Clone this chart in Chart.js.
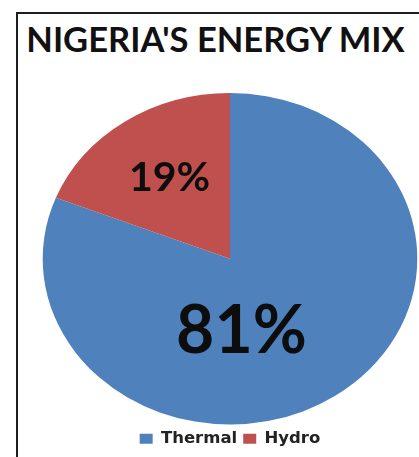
<!DOCTYPE html>
<html>
<head>
<meta charset="utf-8">
<script src="https://cdn.jsdelivr.net/npm/chart.js@4/dist/chart.umd.min.js"></script>
<style>
  html, body { margin: 0; padding: 0; background: #fff; overflow: hidden; }
  body { width: 419px; height: 457px; position: relative; }
  #frame {
    position: absolute; left: 16px; top: 12px; width: 430px; height: 460px;
    border-left: 2px solid #1e1e1e; border-top: 2px solid #1e1e1e;
  }
  #title {
    position: absolute; left: 0; top: 22px; width: 431px; margin: 0;
    text-align: center; font: 700 34.5px/1 Lato, sans-serif; color: #111;
    white-space: nowrap;
  }
  #wrap { position: absolute; left: 0; top: 0; width: 419px; height: 457px; }
</style>
</head>
<body>
<div id="frame"></div>
<h1 id="title">NIGERIA'S ENERGY MIX</h1>
<div id="wrap"><canvas id="piechart"></canvas></div>
<script>
// energy mix, percent
const categories = ["Thermal", "Hydro"];
const shares = [81, 19];
const colors = ["#4f81bd", "#c0504d"];

// the original pie is an ellipse, a bit wider than tall
const stretchX = 1.13;
// where each percentage sits, as a fraction of the radius from the centre
const labelSpots = [[0.061, 0.425], [-0.323, -0.5]];
const labelSizes = [66, 41];

const ellipsePie = {
    id: "ellipsePie",
    beforeDatasetsDraw(chart) {
        const arc = chart.getDatasetMeta(0).data[0];
        const ctx = chart.ctx;
        ctx.save();
        ctx.translate(arc.x, arc.y);
        ctx.scale(stretchX, 1);
        ctx.translate(-arc.x, -arc.y);
    },
    afterDatasetsDraw(chart) {
        const ctx = chart.ctx;
        ctx.restore();
        const meta = chart.getDatasetMeta(0);
        meta.data.forEach((arc, i) => {
            const r = arc.outerRadius;
            const x = arc.x + labelSpots[i][0] * r * stretchX;
            const y = arc.y + labelSpots[i][1] * r;
            const size = labelSizes[i];
            ctx.save();
            ctx.font = "700 " + size + "px Lato, sans-serif";
            ctx.fillStyle = "#0d0d0d";
            ctx.textAlign = "center";
            ctx.textBaseline = "alphabetic";
            ctx.fillText(shares[i] + "%", x, y + size * 0.36);
            ctx.restore();
        });
    }
};

const ctx = document.getElementById("piechart");
new Chart(ctx, {
    type: "pie",
    data: {
        labels: categories,
        datasets: [
            {
                data: shares,
                backgroundColor: colors,
                borderWidth: 0,
                clip: false
            }
        ]
    },
    options: {
        responsive: true,
        maintainAspectRatio: false,
        animation: false,
        layout: {padding: {left: 41, right: 0, top: 93, bottom: 0}},
        plugins: {
            tooltip: {enabled: false},
            legend: {
                position: "bottom",
                labels: {
                    boxWidth: 13,
                    boxHeight: 10,
                    padding: 6,
                    color: "#222",
                    font: {family: "DejaVu Sans", size: 16.5, weight: "bold"}
                }
            }
        }
    },
    plugins: [ellipsePie]
});
</script>
</body>
</html>
